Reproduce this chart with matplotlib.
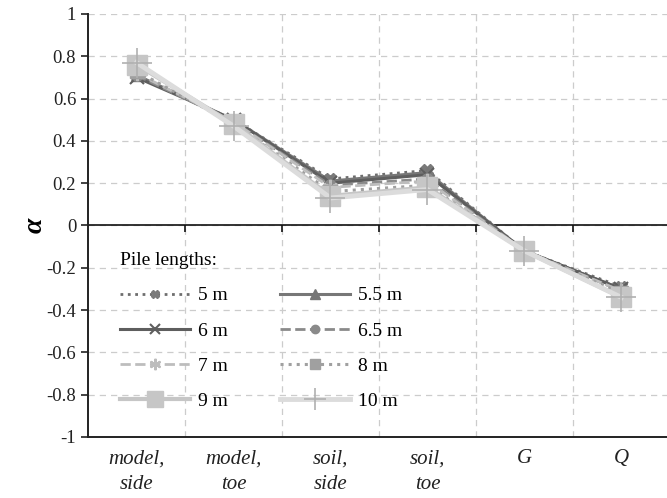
import numpy as np
import matplotlib.pyplot as plt

plt.rcParams['font.family'] = ['Liberation Serif', 'DejaVu Serif']

categories = ["model,\nside", "model,\ntoe", "soil,\nside", "soil,\ntoe", "G", "Q"]
lengths = ["5 m", "5.5 m", "6 m", "6.5 m", "7 m", "8 m", "9 m", "10 m"]

# alpha values per pile length
a_5 = [0.71, 0.50, 0.22, 0.26, -0.12, -0.29]
a_55 = [0.71, 0.50, 0.21, 0.25, -0.12, -0.30]
a_6 = [0.70, 0.50, 0.20, 0.24, -0.12, -0.30]
a_65 = [0.71, 0.49, 0.19, 0.22, -0.12, -0.31]
a_7 = [0.72, 0.49, 0.18, 0.21, -0.12, -0.31]
a_8 = [0.73, 0.48, 0.16, 0.19, -0.12, -0.32]
a_9 = [0.76, 0.48, 0.14, 0.18, -0.12, -0.34]
a_10 = [0.77, 0.47, 0.13, 0.17, -0.12, -0.34]
series = [a_5, a_55, a_6, a_65, a_7, a_8, a_9, a_10]

styles = [
    dict(color="#6e6e6e", ls=":", lw=2.0, marker="X", ms=8, mfc="#7a7a7a", mec="#7a7a7a"),
    dict(color="#777777", ls="-", lw=2.2, marker="^", ms=9),
    dict(color="#5e5e5e", ls="-", lw=2.2, marker="x", ms=10, mew=1.5),
    dict(color="#8a8a8a", ls="--", lw=2.0, marker="o", ms=8),
    dict(color="#bdbdbd", ls="--", lw=2.0, marker=(6, 2, 0), ms=11, mew=1.5),
    dict(color="#a0a0a0", ls=":", lw=2.2, marker="s", ms=10),
    dict(color="#c6c6c6", ls="-", lw=3.0, marker="s", ms=15),
    dict(color="#dcdcdc", ls="-", lw=3.5, marker="+", ms=22, mew=1.2, mec="#b0b0b0"),
]

fig = plt.figure(figsize=(6.67, 4.98), dpi=100)
ax = fig.add_axes([0.132, 0.1225, 0.868, 0.8495])

x = np.arange(len(categories))
handles = []
for vals, lab, st in zip(series, lengths, styles):
    h, = ax.plot(x, vals, label=lab, zorder=3, **st)
    handles.append(h)

ax.set_xlim(-0.5, 5.47)
ax.set_ylim(-1, 1)
ax.set_yticks(np.arange(-1, 1.01, 0.2))
ax.set_yticklabels(["-1", "-0.8", "-0.6", "-0.4", "-0.2", "0", "0.2", "0.4", "0.6", "0.8", "1"])
ax.set_xticks(x)
ax.set_xticklabels(categories, style="italic", fontsize=15, linespacing=1.45)
ax.tick_params(axis="x", length=0, pad=9, colors="#222222")
ax.tick_params(axis="y", direction="out", length=5, width=1.2, labelsize=13.5, colors="#222222")

bounds = np.arange(0.5, 5, 1)
for yv in np.arange(-0.8, 1.01, 0.2):
    ax.axhline(yv, color="#cccccc", ls=(0, (5, 4)), lw=0.9, zorder=0)
for b in bounds:
    ax.axvline(b, color="#cccccc", ls=(0, (5, 4)), lw=0.9, zorder=0)

ax.axhline(0, color="#111111", lw=1.2, zorder=2)
ax.vlines(bounds, -0.03, 0, color="#111111", lw=1.2, zorder=2)

for s in ["top", "right"]:
    ax.spines[s].set_visible(False)
ax.spines["left"].set_linewidth(1.4)
ax.spines["bottom"].set_linewidth(1.4)
ax.spines["left"].set_color("#222222")
ax.spines["bottom"].set_color("#222222")

ax.set_ylabel("α", fontsize=20, style="italic", fontweight="bold")
ax.yaxis.set_label_coords(-0.07, 0.5)

# legend filled row by row
order = [0, 2, 4, 6, 1, 3, 5, 7]
leg = ax.legend([handles[i] for i in order], [lengths[i] for i in order],
                ncol=2, loc="lower left", bbox_to_anchor=(0.008, 0.0), frameon=False,
                title="Pile lengths:", fontsize=14, title_fontsize=14,
                handlelength=3.6, columnspacing=2.7, handletextpad=0.4,
                labelspacing=0.9, borderaxespad=1.0, markerscale=0.75)
leg._legend_box.align = "left"

fig.savefig("out.png", dpi=100)
